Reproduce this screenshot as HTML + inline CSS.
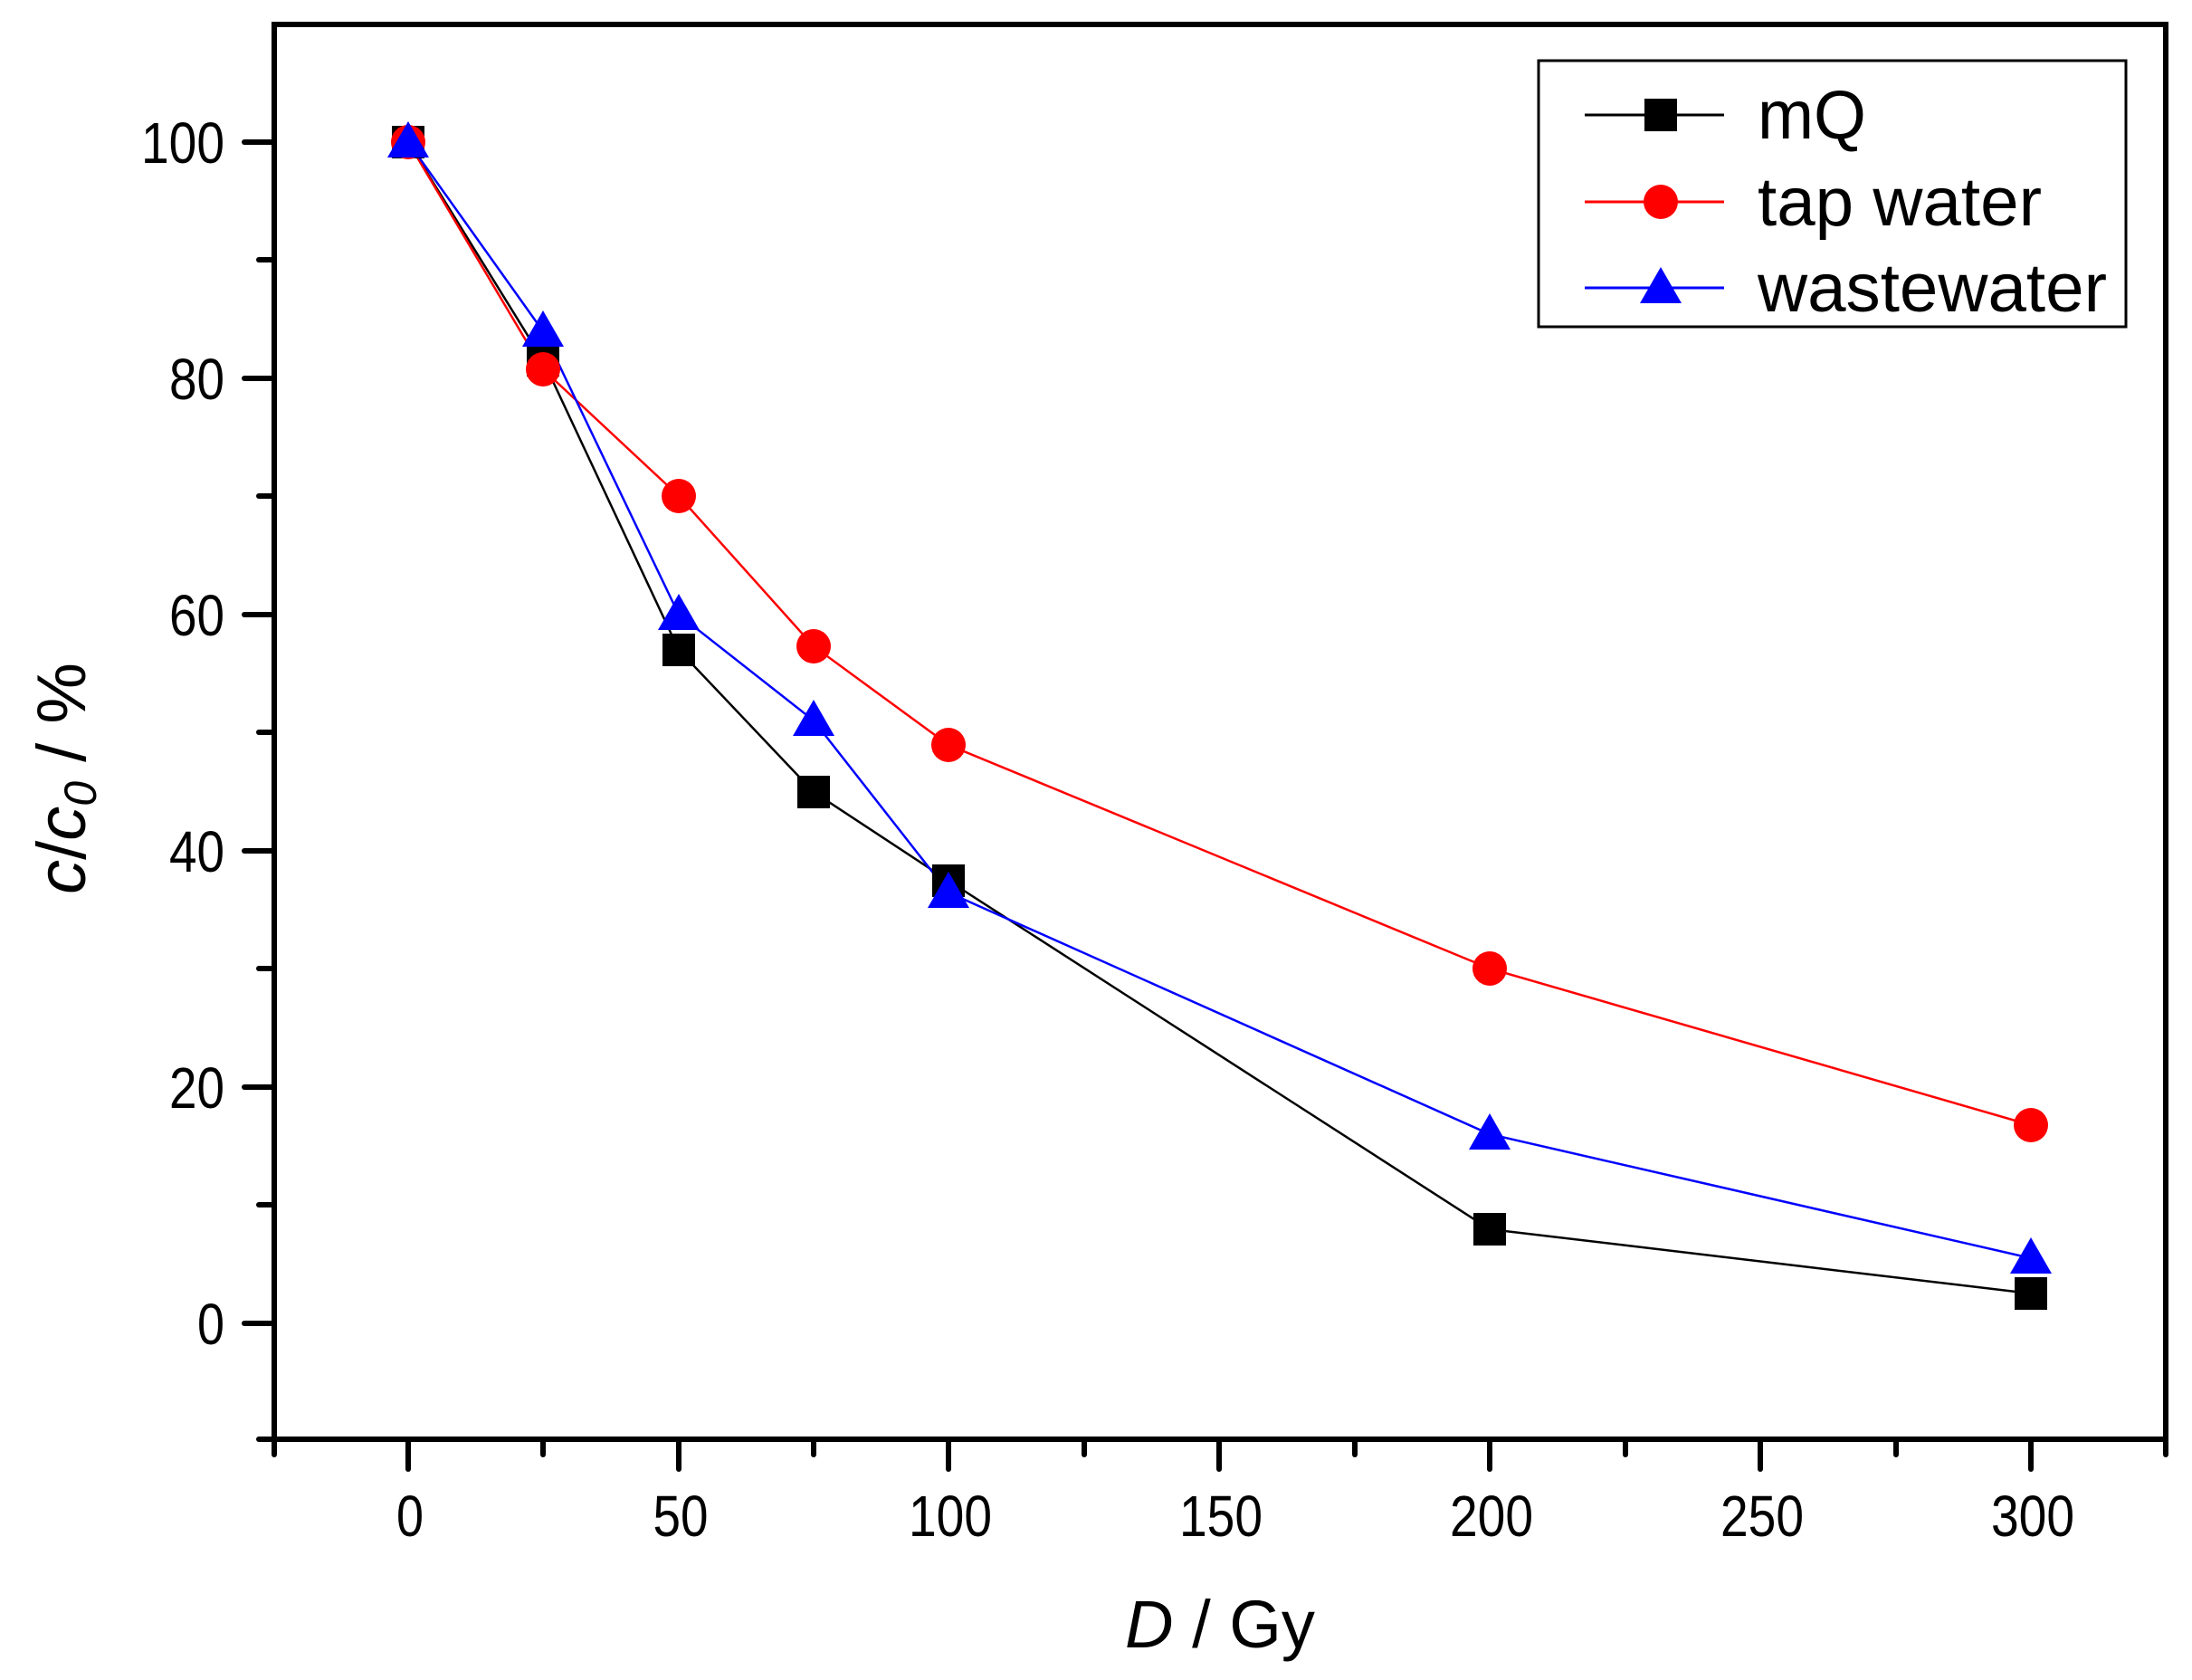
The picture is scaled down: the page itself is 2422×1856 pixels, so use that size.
<!DOCTYPE html>
<html><head><style>body{margin:0;background:#fff}</style></head><body>
<svg width="2422" height="1851" xmlns="http://www.w3.org/2000/svg" font-family="Liberation Sans, sans-serif">
<rect width="2422" height="1851" fill="#fff"/>
<g stroke="#000" stroke-width="6" stroke-linecap="round">
<rect x="303" y="27" width="2090" height="1563" fill="none"/>
<line x1="303" y1="1590" x2="303" y2="1607"/>
<line x1="451" y1="1590" x2="451" y2="1623"/>
<line x1="600" y1="1590" x2="600" y2="1607"/>
<line x1="750" y1="1590" x2="750" y2="1623"/>
<line x1="899" y1="1590" x2="899" y2="1607"/>
<line x1="1048" y1="1590" x2="1048" y2="1623"/>
<line x1="1198" y1="1590" x2="1198" y2="1607"/>
<line x1="1347" y1="1590" x2="1347" y2="1623"/>
<line x1="1497" y1="1590" x2="1497" y2="1607"/>
<line x1="1646" y1="1590" x2="1646" y2="1623"/>
<line x1="1796" y1="1590" x2="1796" y2="1607"/>
<line x1="1945" y1="1590" x2="1945" y2="1623"/>
<line x1="2095" y1="1590" x2="2095" y2="1607"/>
<line x1="2244" y1="1590" x2="2244" y2="1623"/>
<line x1="2393" y1="1590" x2="2393" y2="1607"/>
<line x1="270" y1="1462" x2="303" y2="1462"/>
<line x1="270" y1="1201" x2="303" y2="1201"/>
<line x1="270" y1="940" x2="303" y2="940"/>
<line x1="270" y1="679" x2="303" y2="679"/>
<line x1="270" y1="418" x2="303" y2="418"/>
<line x1="270" y1="157" x2="303" y2="157"/>
<line x1="286" y1="1590" x2="303" y2="1590"/>
<line x1="286" y1="1331" x2="303" y2="1331"/>
<line x1="286" y1="1070" x2="303" y2="1070"/>
<line x1="286" y1="809" x2="303" y2="809"/>
<line x1="286" y1="548" x2="303" y2="548"/>
<line x1="286" y1="287" x2="303" y2="287"/>
</g>
<g font-size="64" text-anchor="end">
<text x="248" y="1485" textLength="30" lengthAdjust="spacingAndGlyphs">0</text>
<text x="248" y="1224" textLength="61" lengthAdjust="spacingAndGlyphs">20</text>
<text x="248" y="963" textLength="61" lengthAdjust="spacingAndGlyphs">40</text>
<text x="248" y="702" textLength="61" lengthAdjust="spacingAndGlyphs">60</text>
<text x="248" y="441" textLength="61" lengthAdjust="spacingAndGlyphs">80</text>
<text x="248" y="180" textLength="92" lengthAdjust="spacingAndGlyphs">100</text>
</g>
<g font-size="64" text-anchor="middle">
<text x="453" y="1697" textLength="30" lengthAdjust="spacingAndGlyphs">0</text>
<text x="752" y="1697" textLength="61" lengthAdjust="spacingAndGlyphs">50</text>
<text x="1050" y="1697" textLength="92" lengthAdjust="spacingAndGlyphs">100</text>
<text x="1349" y="1697" textLength="92" lengthAdjust="spacingAndGlyphs">150</text>
<text x="1648" y="1697" textLength="92" lengthAdjust="spacingAndGlyphs">200</text>
<text x="1947" y="1697" textLength="92" lengthAdjust="spacingAndGlyphs">250</text>
<text x="2246" y="1697" textLength="92" lengthAdjust="spacingAndGlyphs">300</text>
</g>
<text x="1348" y="1820" font-size="74" text-anchor="middle" textLength="210" lengthAdjust="spacingAndGlyphs"><tspan font-style="italic">D</tspan> / Gy</text>
<text transform="translate(94,860) rotate(-90)" font-size="76" text-anchor="middle"><tspan font-style="italic">c</tspan>/<tspan font-style="italic">c</tspan><tspan font-style="italic" font-size="50" dy="12">0</tspan><tspan dy="-12"> / %</tspan></text>
<polyline fill="none" stroke="#000" stroke-width="2.5" points="451,157 600,398 750,718 899,875 1048,973 1646,1358 2244,1429"/>
<polyline fill="none" stroke="#f00" stroke-width="2.5" points="451,157 600,408 750,548 899,714 1048,823 1646,1070 2244,1243"/>
<polyline fill="none" stroke="#00f" stroke-width="2.5" points="451,157 600,366 750,679 899,796 1048,986 1646,1253 2244,1390"/>
<g fill="#000">
<rect x="433" y="139" width="36" height="36"/><rect x="582" y="380" width="36" height="36"/><rect x="732" y="700" width="36" height="36"/><rect x="881" y="857" width="36" height="36"/><rect x="1030" y="955" width="36" height="36"/><rect x="1628" y="1340" width="36" height="36"/><rect x="2226" y="1411" width="36" height="36"/>
</g>
<g fill="#f00">
<circle cx="451" cy="157" r="19"/><circle cx="600" cy="408" r="19"/><circle cx="750" cy="548" r="19"/><circle cx="899" cy="714" r="19"/><circle cx="1048" cy="823" r="19"/><circle cx="1646" cy="1070" r="19"/><circle cx="2244" cy="1243" r="19"/>
</g>
<g fill="#00f">
<polygon points="451,134 474,174 428,174"/><polygon points="600,343 623,383 577,383"/><polygon points="750,656 773,696 727,696"/><polygon points="899,773 922,813 876,813"/><polygon points="1048,963 1071,1003 1025,1003"/><polygon points="1646,1230 1669,1270 1623,1270"/><polygon points="2244,1367 2267,1407 2221,1407"/>
</g>
<rect x="1700" y="67" width="649" height="294" fill="#fff" stroke="#000" stroke-width="3"/>
<line x1="1751" y1="127" x2="1905" y2="127" stroke="#000" stroke-width="3"/>
<rect x="1817" y="109" width="36" height="36" fill="#000"/>
<line x1="1751" y1="223" x2="1905" y2="223" stroke="#f00" stroke-width="3"/>
<circle cx="1835" cy="223" r="19" fill="#f00"/>
<line x1="1751" y1="318" x2="1905" y2="318" stroke="#00f" stroke-width="3"/>
<polygon points="1835,295 1858,335 1812,335" fill="#00f"/>
<g font-size="76">
<text x="1942" y="153" textLength="120" lengthAdjust="spacingAndGlyphs">mQ</text>
<text x="1942" y="249" textLength="314" lengthAdjust="spacingAndGlyphs">tap water</text>
<text x="1942" y="344" textLength="386" lengthAdjust="spacingAndGlyphs">wastewater</text>
</g>
</svg>
</body></html>
